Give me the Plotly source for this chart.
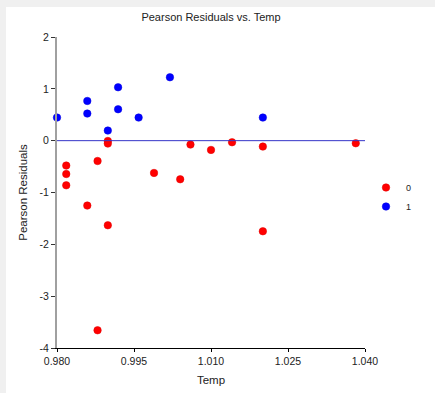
import plotly.graph_objects as go

# Data
red_temp = [0.9818, 0.9818, 0.9818, 0.9859, 0.9879, 0.9879, 0.9899, 0.9899, 0.9899,
            0.9989, 1.0040, 1.0060, 1.0100, 1.0141, 1.0201, 1.0201, 1.0382]
red_resid = [-0.48, -0.643, -0.861, -1.252, -0.392, -3.658, -0.006, -0.056, -1.632,
             -0.623, -0.745, -0.075, -0.179, -0.031, -0.114, -1.748, -0.050]
blue_temp = [0.9800, 0.9859, 0.9859, 0.9899, 0.9919, 0.9919, 0.9959, 1.0020, 1.0201]
blue_resid = [0.446, 0.766, 0.523, 0.195, 1.030, 0.606, 0.446, 1.223, 0.446]

x_ticks = [0.980, 0.995, 1.010, 1.025, 1.040]
x_ticklabels = ["0.980", "0.995", "1.010", "1.025", "1.040"]
y_ticks = [-4, -3, -2, -1, 0, 1, 2]
y_ticklabels = ["-4", "-3", "-2", "-1", "0", "1", "2"]
ref_level = 0

FONT = "Liberation Sans, Arial, sans-serif"

fig = go.Figure()
fig.add_trace(go.Scatter(x=red_temp, y=red_resid, mode="markers", name="0",
                         marker=dict(color="#ff0000", size=7.5, line=dict(color="#e00000", width=0.5)),
                         cliponaxis=False))
fig.add_trace(go.Scatter(x=blue_temp, y=blue_resid, mode="markers", name="1",
                         marker=dict(color="#0000ff", size=7.5, line=dict(color="#0000e0", width=0.5)),
                         cliponaxis=False))

L, R, T, B = 57, 70, 37, 45
W, H = 435, 393
pw, ph = W - L - R, H - T - B

fig.add_shape(type="rect", xref="paper", yref="paper", layer="below",
              x0=(6 - L) / pw, x1=1 + R / pw, y0=-B / ph, y1=1 + (T - 7) / ph,
              fillcolor="white", line=dict(width=0))
fig.add_shape(type="line", xref="paper", yref="y", x0=0, x1=1, y0=ref_level, y1=ref_level,
              line=dict(color="#3535c8", width=1), layer="above")

fig.update_layout(
    width=W, height=H,
    margin=dict(l=L, r=R, t=T, b=B, autoexpand=False),
    paper_bgcolor="#f0f0f0", plot_bgcolor="white",
    font=dict(family=FONT, size=11, color="#222"),
    title=dict(text="Pearson Residuals vs. Temp", x=(211 - L) / pw, xref="paper", xanchor="center",
               y=1 - 17 / H, yanchor="middle", font=dict(size=11, color="#222")),
    showlegend=True,
    legend=dict(x=1 + (366 - 365) / pw, xanchor="left", y=1 - (197 - T) / ph, yanchor="middle",
                font=dict(size=9, color="#222"), bgcolor="rgba(0,0,0,0)",
                itemwidth=30, tracegroupgap=0),
    xaxis=dict(range=[0.980, 1.040], tickvals=x_ticks, ticktext=x_ticklabels,
               showgrid=False, zeroline=False, showline=True, linecolor="#000", linewidth=1,
               ticks="outside", ticklen=3, tickcolor="#000", tickfont=dict(size=10.5),
               title=dict(text="Temp", font=dict(size=11.5), standoff=10)),
    yaxis=dict(range=[-4, 2], tickvals=y_ticks, ticktext=y_ticklabels, showgrid=False,
               zeroline=False,
               showline=True, linecolor="#a0a0a0", linewidth=2,
               ticks="outside", ticklen=4, tickcolor="#333", tickfont=dict(size=10.5),
               title=dict(text="Pearson Residuals", font=dict(size=11.5), standoff=10)),
)

fig.write_html("out.html")
